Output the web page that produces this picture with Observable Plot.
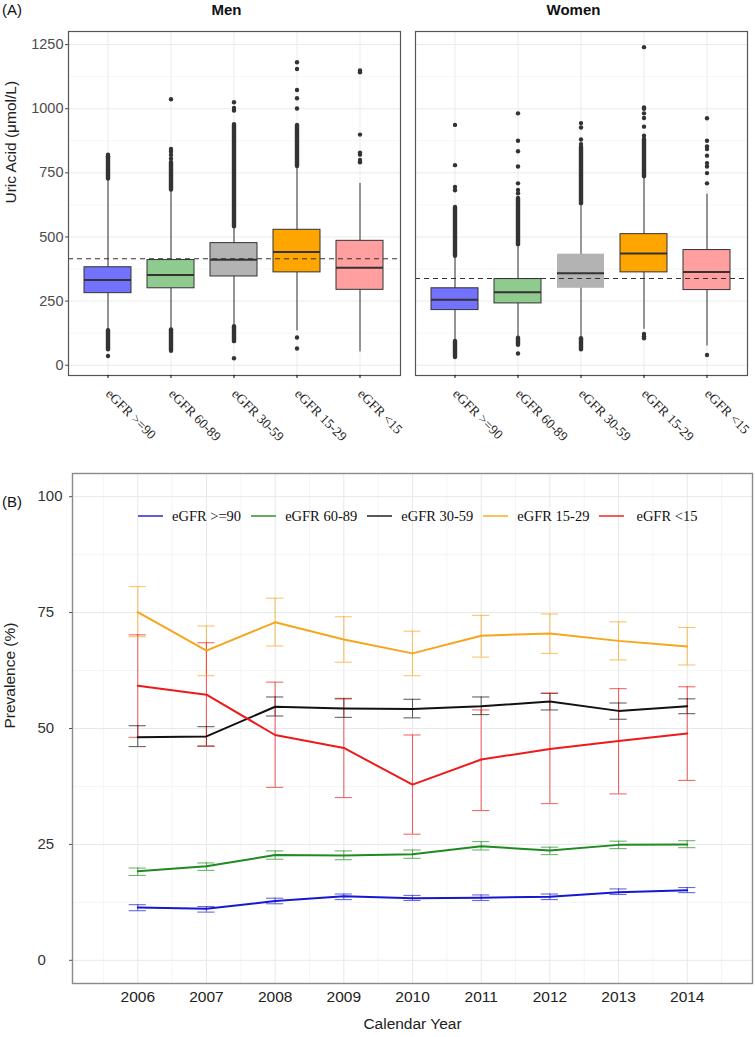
<!DOCTYPE html>
<html><head><meta charset="utf-8">
<script src="https://cdn.jsdelivr.net/npm/d3@7"></script>
<script src="https://cdn.jsdelivr.net/npm/@observablehq/plot@0.6"></script>
<style>
body{margin:0;background:#fff;}
#wrap{position:relative;width:755px;height:1037px;overflow:hidden;font-family:"Liberation Sans",Arial,sans-serif;}
#wrap svg{position:absolute;left:0;}
.tag{position:absolute;left:2px;font-size:15px;color:#111;line-height:1;}
#legend{position:absolute;top:507px;left:138px;display:flex;align-items:center;font-family:"Liberation Serif","Times New Roman",serif;font-size:14.5px;color:#111;white-space:nowrap;height:18px;}
.item{display:flex;align-items:center;margin-right:10px;}
.sw{width:25px;height:0;border-top:2px solid;margin-right:9px;opacity:.7}
</style></head><body><div id="wrap"></div>
<script>
// ---------- Panel A data ----------
const categories = ["eGFR >=90", "eGFR 60-89", "eGFR 30-59", "eGFR 15-29", "eGFR <15"];
const sexes = ["Men", "Women"];
const boxFill = ["#7272fc", "#8fca8f", "#b3b3b3", "#ffa500", "#ff9f9f"];

const menWhiskerLo = [137, 140, 153, 134, 52];
const menQ1        = [281, 300, 346, 362, 294];
const menMedian    = [332, 352, 411, 441, 380];
const menQ3        = [382, 410, 476, 528, 485];
const menWhiskerHi = [726, 683, 537, 771, 709];

const womenWhiskerLo = [95, 108, 105, 140, 75];
const womenQ1        = [215, 241, 300, 362, 293];
const womenMedian    = [255, 285, 359, 436, 363];
const womenQ3        = [300, 336, 433, 511, 449];
const womenWhiskerHi = [420, 468, 628, 732, 667];

const referenceLevel = [415, 338]; // dashed line, Men / Women

// dense streaks of outlier dots: [sex, category index, from, to]
const outlierStreaks = [
  ["Men", 0, 60, 135], ["Men", 0, 726, 812],
  ["Men", 1, 58, 138], ["Men", 1, 683, 790],
  ["Men", 2, 92, 150], ["Men", 2, 540, 938],
  ["Men", 3, 775, 935],
  ["Women", 0, 30, 93], ["Women", 0, 425, 615],
  ["Women", 1, 78, 105], ["Women", 1, 470, 650],
  ["Women", 2, 60, 103], ["Women", 2, 630, 850],
  ["Women", 3, 735, 880]
];
// single outlier dots per category
const menOutliers = [
  [36, 815, 821],
  [56, 805, 820, 832, 843, 1037],
  [27, 993, 1003, 1025],
  [65, 108, 1001, 1041, 1073, 1155, 1181],
  [791, 800, 821, 829, 899, 1142, 1149]
];
const womenOutliers = [
  [682, 695, 780, 937],
  [46, 670, 683, 709, 775, 834, 875, 982],
  [862, 880, 927, 944],
  [105, 113, 122, 895, 930, 964, 982, 1000, 1005, 1240],
  [40, 709, 749, 775, 788, 817, 843, 853, 875, 963]
];
const yTicksA = [0, 250, 500, 750, 1000, 1250];
const yMinorA = [125, 375, 625, 875, 1125];

// ---------- Panel B data ----------
const years = [2006, 2007, 2008, 2009, 2010, 2011, 2012, 2013, 2014];
const groups = ["eGFR >=90", "eGFR 60-89", "eGFR 30-59", "eGFR 15-29", "eGFR <15"];
const lineColors = ["#1717d2", "#1f8a1f", "#111111", "#f7a51c", "#ec1a1a"];
const prevGe90 = [11.4, 11.1, 12.8, 13.8, 13.4, 13.5, 13.7, 14.7, 15.1];
const loGe90   = [10.7, 10.4, 12.2, 13.1, 12.9, 12.9, 13.1, 14.2, 14.6];
const hiGe90   = [12.0, 11.6, 13.4, 14.3, 14.0, 14.1, 14.3, 15.4, 15.7];
const prev6089 = [19.2, 20.3, 22.7, 22.6, 22.9, 24.6, 23.7, 24.9, 25.0];
const lo6089   = [18.3, 19.4, 21.8, 21.7, 22.0, 23.8, 22.8, 24.1, 24.3];
const hi6089   = [19.9, 21.0, 23.6, 23.6, 23.8, 25.6, 24.4, 25.7, 25.8];
const prev3059 = [48.1, 48.3, 54.7, 54.3, 54.2, 54.8, 55.8, 53.8, 54.8];
const lo3059   = [46.1, 46.2, 52.7, 52.4, 52.3, 53.0, 54.0, 52.0, 53.2];
const hi3059   = [50.6, 50.4, 56.8, 56.4, 56.3, 56.8, 57.6, 55.5, 56.4];
const prev1529 = [75.1, 66.8, 72.9, 69.2, 66.2, 70.0, 70.5, 68.9, 67.7];
const lo1529   = [69.8, 61.4, 67.8, 64.3, 61.4, 65.4, 66.2, 64.8, 63.7];
const hi1529   = [80.6, 72.1, 78.1, 74.1, 71.0, 74.4, 74.7, 73.0, 71.8];
const prevLt15 = [59.2, 57.3, 48.6, 45.8, 37.9, 43.3, 45.6, 47.3, 48.9];
const loLt15   = [48.1, 46.2, 37.3, 35.1, 27.2, 32.3, 33.8, 35.9, 38.8];
const hiLt15   = [70.2, 68.5, 60.0, 56.5, 48.6, 54.0, 57.6, 58.6, 59.0];
const yTicksB = [0, 25, 50, 75, 100];
const yMinorB = [12.5, 37.5, 62.5, 87.5];
const xMinorB = [2005.5, 2006.5, 2007.5, 2008.5, 2009.5, 2010.5, 2011.5, 2012.5, 2013.5, 2014.5];

// ---------- build tables ----------
const statsBy = {
  Men: {lo: menWhiskerLo, q1: menQ1, med: menMedian, q3: menQ3, hi: menWhiskerHi, out: menOutliers},
  Women: {lo: womenWhiskerLo, q1: womenQ1, med: womenMedian, q3: womenQ3, hi: womenWhiskerHi, out: womenOutliers}
};
const boxes = [], dotsA = [];
sexes.forEach(sex => categories.forEach((cat, i) => {
  const s = statsBy[sex];
  boxes.push({sex, cat, i, lo: s.lo[i], q1: s.q1[i], med: s.med[i], q3: s.q3[i], hi: s.hi[i]});
  s.out[i].forEach(v => dotsA.push({sex, cat, v}));
}));
const streaks = outlierStreaks.map(([sex, i, a, b]) => ({sex, cat: categories[i], a, b}));
const refs = sexes.map((sex, i) => ({sex, v: referenceLevel[i]}));
const special = d => d.sex === "Women" && d.cat === "eGFR 30-59";

const serif = "'Liberation Serif','Times New Roman',serif";
const wrap = document.getElementById("wrap");

const plotA = Plot.plot({
  width: 755, height: 445,
  marginLeft: 68, marginRight: 7, marginTop: 31, marginBottom: 70,
  style: {fontFamily: "'Liberation Sans',Arial,sans-serif", background: "white"},
  fx: {domain: sexes, paddingInner: 0.0432, paddingOuter: 0, label: null},
  x: {domain: categories, type: "band", paddingInner: 0.25, paddingOuter: 0.225, label: null},
  y: {domain: [-40, 1301], label: null},
  color: {type: "identity"},
  marks: [
    Plot.ruleY(yMinorA, {stroke: "#f4f4f4", strokeWidth: 0.8}),
    Plot.ruleY(yTicksA, {stroke: "#ebebeb", strokeWidth: 1}),
    Plot.ruleX(categories, {x: d => d, stroke: "#ebebeb", strokeWidth: 1}),
    Plot.ruleX(boxes, {fx: "sex", x: "cat", y1: "lo", y2: "hi", stroke: d => special(d) ? "#808080" : "#333333", strokeWidth: d => special(d) ? 1.6 : 1}),
    Plot.ruleX(streaks, {fx: "sex", x: "cat", y1: "a", y2: "b", stroke: "#333333", strokeWidth: 4.4, strokeLinecap: "round"}),
    Plot.dot(dotsA, {fx: "sex", x: "cat", y: "v", r: 2.2, fill: "#333333", stroke: null}),
    Plot.barY(boxes, {fx: "sex", x: "cat", y1: "q1", y2: "q3", fill: d => boxFill[d.i], stroke: d => special(d) ? "none" : "#333333", strokeWidth: 1}),
    Plot.tickY(boxes, {fx: "sex", x: "cat", y: "med", stroke: "#333333", strokeWidth: 2}),
    Plot.ruleY(refs, {fx: "sex", y: "v", stroke: "#333333", strokeWidth: 1.1, strokeDasharray: "5,4"}),
    Plot.frame({stroke: "#555555", strokeWidth: 1.2}),
    Plot.axisY({ticks: yTicksA, tickFormat: d => String(d), tickSize: 3, tickPadding: 2, fontSize: 14.5, color: "#4d4d4d", label: null}),
    Plot.axisX({tickRotate: 45, tickSize: 3, label: null, tickFormat: () => ""}),
    Plot.axisX({tickRotate: 45, tickSize: 0, tickPadding: 16, fontSize: 13.5, fontFamily: serif, color: "#222", label: null}),
    Plot.axisFx({anchor: "top", tickSize: 0, tickPadding: 17, fontWeight: "bold", fontSize: 15, label: null, dx: -8, color: "#111"}),
    Plot.text(["Uric Acid (μmol/L)"], {fx: ["Men"], text: d => d, frameAnchor: "left", rotate: -90, dx: -57, fontSize: 15.5, fill: "#222"})
  ]
});
plotA.style.top = "0px";
wrap.appendChild(plotA);

// Panel B rows
const seriesVals = [
  [prevGe90, loGe90, hiGe90], [prev6089, lo6089, hi6089], [prev3059, lo3059, hi3059],
  [prev1529, lo1529, hi1529], [prevLt15, loLt15, hiLt15]
];
const rowsB = [], caps = [];
groups.forEach((g, gi) => years.forEach((year, k) => {
  const [p, lo, hi] = seriesVals[gi];
  rowsB.push({group: g, year, prev: p[k], lo: lo[k], hi: hi[k]});
  caps.push({group: g, year, v: lo[k]}, {group: g, year, v: hi[k]});
}));
const capHalf = 0.125;

const plotB = Plot.plot({
  width: 755, height: 592,
  marginLeft: 72, marginRight: 3, marginTop: 28, marginBottom: 54,
  style: {fontFamily: "'Liberation Sans',Arial,sans-serif", background: "white"},
  x: {domain: [2005.05, 2014.95], label: null},
  y: {domain: [-5, 105], label: null},
  color: {domain: groups, range: lineColors},
  marks: [
    Plot.ruleX(xMinorB, {stroke: "#f2f2f2", strokeWidth: 0.8}),
    Plot.ruleX(years, {stroke: "#e8e8e8", strokeWidth: 1}),
    Plot.ruleY(yMinorB, {stroke: "#f2f2f2", strokeWidth: 0.8}),
    Plot.ruleY(yTicksB, {stroke: "#e8e8e8", strokeWidth: 1}),
    Plot.ruleX(rowsB, {x: "year", y1: "lo", y2: "hi", stroke: "group", strokeOpacity: 0.65, strokeWidth: 1.1}),
    Plot.ruleY(caps, {x1: d => d.year - capHalf, x2: d => d.year + capHalf, y: "v", stroke: "group", strokeOpacity: 0.65, strokeWidth: 1.1}),
    Plot.lineY(rowsB, {x: "year", y: "prev", z: "group", stroke: "group", strokeWidth: 2}),
    Plot.frame({stroke: "#8a8a8a", strokeWidth: 1.4}),
    Plot.axisY({ticks: yTicksB, tickSize: 3, tickFormat: () => "", color: "#555", label: null}),
    Plot.axisY({ticks: yTicksB, tickSize: 0, tickPadding: 0, textAnchor: "start", dx: -35, fontSize: 15, color: "#333", label: null}),
    Plot.axisX({ticks: years, tickFormat: d => String(d), tickSize: 0, tickPadding: 7, fontSize: 15.5, color: "#222", label: null}),
    Plot.text(["Calendar Year"], {text: d => d, frameAnchor: "bottom", dy: 45, fontSize: 15.5, fill: "#222"}),
    Plot.text(["Prevalence (%)"], {text: d => d, frameAnchor: "left", rotate: -90, dx: -62, fontSize: 15.5, fill: "#222"})
  ]
});
plotB.style.top = "445px";
wrap.appendChild(plotB);

// panel tags
const tA = document.createElement("div"); tA.className = "tag"; tA.style.top = "2px"; tA.textContent = "(A)"; wrap.appendChild(tA);
const tB = document.createElement("div"); tB.className = "tag"; tB.style.top = "494px"; tB.textContent = "(B)"; wrap.appendChild(tB);

// legend
const lg = document.createElement("div"); lg.id = "legend";
groups.forEach((g, i) => {
  const it = document.createElement("div"); it.className = "item";
  const sw = document.createElement("span"); sw.className = "sw"; sw.style.borderColor = lineColors[i];
  if (i === 4) sw.style.marginRight = "12px";
  const tx = document.createElement("span"); tx.textContent = g;
  it.appendChild(sw); it.appendChild(tx); lg.appendChild(it);
});
wrap.appendChild(lg);
</script></body></html>
